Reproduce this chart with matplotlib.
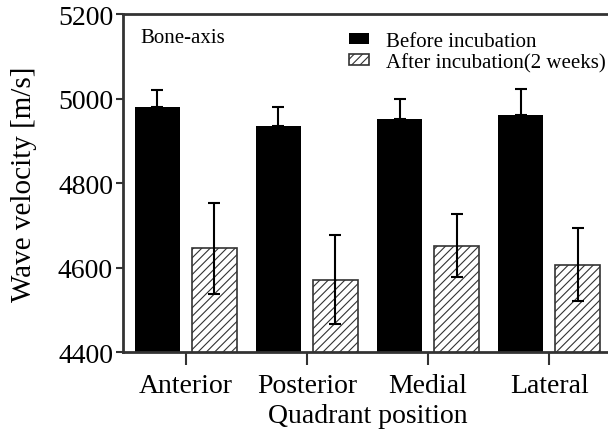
import matplotlib.pyplot as plt
import numpy as np

plt.rcParams['font.family'] = ['Liberation Serif', 'DejaVu Serif']
plt.rcParams['hatch.linewidth'] = 0.8

# data
quadrants = ['Anterior', 'Posterior', 'Medial', 'Lateral']
before = [4981, 4936, 4952, 4962]
before_err = [40, 43, 47, 60]
after = [4645, 4571, 4652, 4607]
after_err = [108, 105, 75, 87]

x = np.arange(len(quadrants))
w = 0.37
off = 0.235

fig = plt.figure(figsize=(6.08, 4.35), dpi=100)
ax = fig.add_axes([0.202, 0.1885, 0.805, 0.777])

ax.bar(x - off, before, w, color='black', edgecolor='black', linewidth=0,
       label='Before incubation')
ax.errorbar(x - off, before, yerr=[np.zeros(4), before_err], fmt='none',
            ecolor='black', elinewidth=1.5, capsize=4, capthick=1.5)
ax.bar(x + off, after, w, color='white', edgecolor='#333333', hatch='////',
       linewidth=1.2, label='After incubation(2 weeks)')
ax.errorbar(x + off, after, yerr=after_err, fmt='none',
            ecolor='black', elinewidth=1.5, capsize=4, capthick=1.5)

ax.set_ylim(4400, 5200)
ax.set_xlim(-0.52, 3.52)
ax.set_yticks([4400, 4600, 4800, 5000, 5200])
ax.set_xticks(x)
ax.set_xticklabels(quadrants)
ax.tick_params(axis='both', direction='out', labelsize=20, width=1.5,
               color='#333333')
ax.tick_params(axis='x', pad=6, length=9)
ax.tick_params(axis='y', pad=2, length=5)
for s in ax.spines.values():
    s.set_linewidth(2)
    s.set_color('#333333')

ax.set_ylabel('Wave velocity [m/s]', fontsize=21, labelpad=15)
ax.set_xlabel('Quadrant position', fontsize=20, labelpad=4)

ax.text(0.035, 0.96, 'Bone-axis', transform=ax.transAxes, fontsize=15,
        va='top', ha='left')
ax.legend(loc='upper left', bbox_to_anchor=(0.423, 1.003), frameon=False,
          fontsize=15, handlelength=1.0, handleheight=0.45,
          handletextpad=0.8, labelspacing=0.1)

fig.savefig('out.png', dpi=100)
